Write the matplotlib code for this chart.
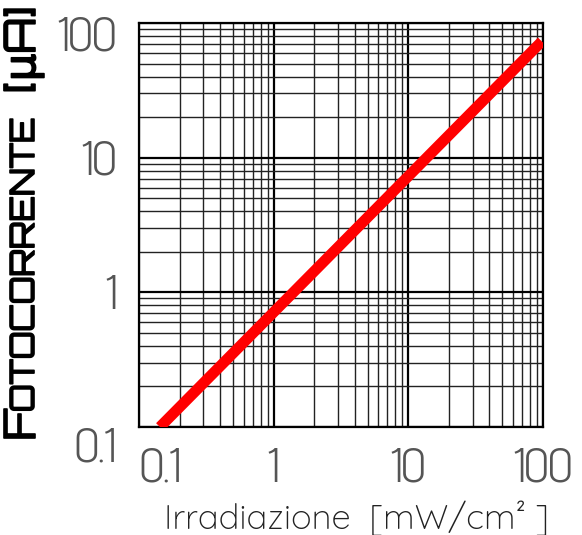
import matplotlib
matplotlib.use("Agg")
import matplotlib.pyplot as plt
import matplotlib.patheffects as pe
import matplotlib.transforms as mtransforms
from matplotlib import font_manager
from matplotlib.ticker import NullFormatter

# photocurrent vs irradiance
irradiance = [0.143, 1.4, 98.0]     # mW/cm2
photocurrent = [0.1, 1.0, 73.0]     # uA

x_ticks = [0.1, 1, 10, 100]
x_tick_labels = ["0.1", "1", "10", "100"]
y_ticks = [0.1, 1, 10, 100]
y_tick_labels = ["0.1", "1", "10", "100"]

TICK_FONT = "Advent Pro"
XLABEL_FONT = "Quicksand"
YLABEL_FONT = "Orbitron"


def weights(family):
    return [f.weight for f in font_manager.fontManager.ttflist if f.name == family] or [400]


fig = plt.figure(figsize=(5.82, 5.35), dpi=100)
ax = fig.add_axes([139 / 582, 108 / 535, 404 / 582, 404 / 535])

ax.set_xscale("log")
ax.set_yscale("log")
ax.set_xlim(0.1, 100)
ax.set_ylim(0.1, 100)

ax.plot(irradiance, photocurrent, color="#ff0000", linewidth=7.8,
        solid_capstyle="butt", zorder=3)

ax.grid(which="major", color="black", linewidth=1.6)
ax.grid(which="minor", color="#222222", linewidth=1.0)
ax.set_axisbelow(True)
for spine in ax.spines.values():
    spine.set_linewidth(1.6)

ax.set_xticks(x_ticks, labels=x_tick_labels)
ax.set_yticks(y_ticks, labels=y_tick_labels)
ax.xaxis.set_minor_formatter(NullFormatter())
ax.yaxis.set_minor_formatter(NullFormatter())
ax.tick_params(which="both", length=0)
ax.tick_params(axis="x", pad=15)
ax.tick_params(axis="y", pad=16)
tick_weight = min(weights(TICK_FONT))
for lab in ax.get_xticklabels() + ax.get_yticklabels():
    lab.set_fontfamily(TICK_FONT)
    lab.set_fontweight(tick_weight)
    lab.set_fontsize(35)
    lab.set_color("#555555")
ax.get_xticklabels()[0].set_horizontalalignment("left")
ax.get_yticklabels()[0].set_verticalalignment("top")
# the top "100" sits a little below its grid line in the original
top_label = ax.get_yticklabels()[-1]
top_label.set_transform(top_label.get_transform()
                        + mtransforms.ScaledTranslation(0, -0.1, fig.dpi_scale_trans))

fig.text(356 / 582, 17 / 535, "Irradiazione  [mW/cm² ]", family=XLABEL_FONT,
         weight=min(weights(XLABEL_FONT)), fontsize=25, ha="center", va="center",
         color="#222222")

# y label: big initial, small caps, then the unit
ykw = dict(family=[YLABEL_FONT, "DejaVu Sans"], weight=max(weights(YLABEL_FONT)),
           rotation=90, rotation_mode="anchor", ha="left", va="baseline",
           color="black", path_effects=[pe.withStroke(linewidth=1.2, foreground="black")])
fig.text(35 / 582, 95 / 535, "F", fontsize=31, **ykw)
fig.text(34 / 582, 123 / 535, "OTOCORRENTE", fontsize=24, **ykw)
fig.text(35 / 582, 442 / 535, "[μA]", fontsize=31, **ykw)

fig.savefig("out.png", dpi=100)
